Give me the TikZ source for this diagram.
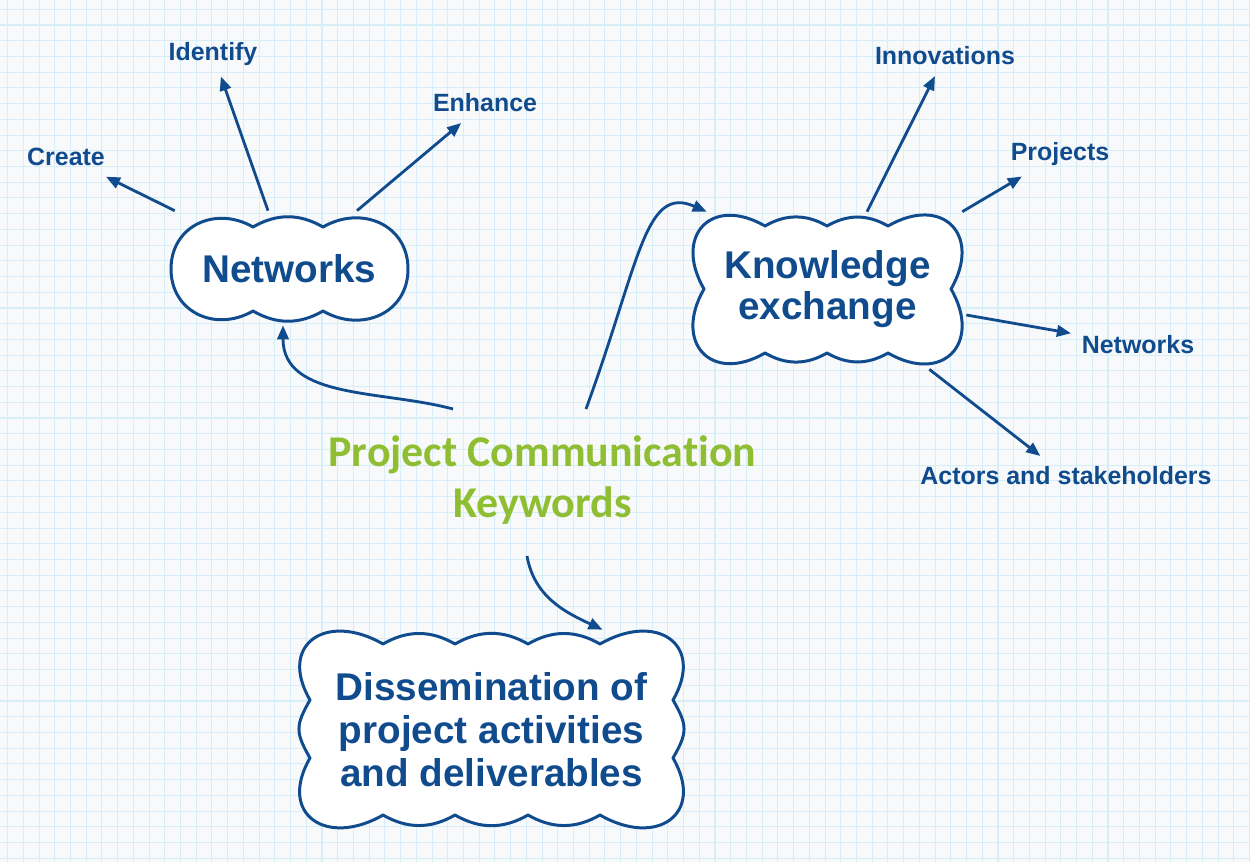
\documentclass[tikz,border=0pt]{standalone}
\usepackage{fontspec}
\setmainfont{Liberation Sans}
\newfontfamily\kwfont[Ligatures=NoCommon]{Carlito}
\usetikzlibrary{arrows.meta,positioning}
\definecolor{inkblue}{HTML}{104B8D}
\definecolor{leafgreen}{HTML}{90BE33}
\definecolor{paper}{HTML}{F8F9FA}
\definecolor{gridblue}{HTML}{D7EDF7}

\begin{document}
\begin{tikzpicture}[x=0.02cm, y=0.02cm,
    gridline/.style={draw=gridblue, line width=0.6pt},
    cloudline/.style={draw=inkblue, fill=white, line width=1.7pt, line join=round},
    topbump/.style={out=30, in=150},
    botbump/.style={out=210, in=-30},
    rightbump/.style={out=-60, in=60, looseness=1.3},
    leftbump/.style={out=120, in=240, looseness=1.3},
    big/.style={text=inkblue, align=center, inner sep=0pt},
    key/.style={text=inkblue, font=\fontsize{14.2}{16}\selectfont\bfseries, inner sep=6pt},
    arr/.style={draw=inkblue, line width=1.6pt, -{Triangle[length=8pt,width=6.5pt]}}]

    % paper with grid
    \fill[paper] (0,0) rectangle (1250,-862);
    \useasboundingbox (0,0) rectangle (1250,-862);
    \foreach \k in {0,...,79}
        \draw[gridline] (7.6+15.72*\k,0) -- (7.6+15.72*\k,-862);
    \foreach \k in {0,...,54}
        \draw[gridline] (0,-9.3-15.72*\k) -- (1250,-9.3-15.72*\k);

    % clouds
    \draw[cloudline] (253,-227) to[topbump] (323,-227)
        to[out=30, in=90, looseness=1.2] (408,-269)
        to[out=-90, in=-30, looseness=1.2] (323,-311)
        to[botbump] (253,-311)
        to[out=210, in=-90, looseness=1.2] (171,-269)
        to[out=90, in=150, looseness=1.2] (253,-227) -- cycle;
    \draw[cloudline] (765,-226) to[topbump] (827,-226) to[topbump] (888,-226)
        to[out=30, in=60, looseness=1.8] (951,-289)
        to[out=-60, in=-30, looseness=1.8] (888,-353)
        to[botbump] (827,-353) to[botbump] (765,-353)
        to[out=210, in=240, looseness=1.8] (704,-289)
        to[out=120, in=150, looseness=1.8] (765,-226) -- cycle;
    \draw[cloudline] (383,-644) to[topbump] (455,-644) to[topbump] (528,-644) to[topbump] (600,-644)
        to[out=30, in=60, looseness=1.8] (673,-700)
        to[rightbump] (673,-758)
        to[out=-60, in=-30, looseness=1.8] (600,-815)
        to[botbump] (528,-815) to[botbump] (455,-815) to[botbump] (383,-815)
        to[out=210, in=240, looseness=1.8] (310,-758)
        to[leftbump] (310,-700)
        to[out=120, in=150, looseness=1.8] (383,-644) -- cycle;

    \node[big, minimum width=4.74cm, minimum height=2.16cm, font=\fontsize{22}{23.5}\selectfont\bfseries] (net) at (289.5,-269) {Networks};
    \node[big, minimum width=5.42cm, minimum height=3.02cm, font=\fontsize{22}{23.3}\selectfont\bfseries] (kex) at (827.5,-289.5) {Knowledge\\exchange};
    \node[big, minimum width=7.74cm, minimum height=3.9cm, font=\fontsize{22}{24.5}\selectfont\bfseries] (dis) at (491.5,-729.5) {Dissemination of\\project activities\\and deliverables};
    \node[text=leafgreen, align=center, inner sep=0pt, font=\kwfont\fontsize{25}{29.5}\selectfont\bfseries] (kw) at (542.5,-480) {Project Communication\\Keywords};

    \node[key] (create) at (66,-157) {Create};
    \node[key] (identify) at (213,-54) {Identify};
    \node[key] (enhance) at (485,-103) {Enhance};
    \node[key] (innov) at (945,-56) {Innovations};
    \node[key] (proj) at (1060,-154) {Projects};
    \node[key] (knet) at (1138,-345) {Networks};
    \node[key] (actors) at (1066,-476) {Actors and stakeholders};

    \draw[arr] ([shift={(4,4)}]net.north west) -- (create);
    \draw[arr] ([shift={(-21.5,4)}]net.north) -- (identify);
    \draw[arr] ([shift={(67.5,4)}]net.north) -- (enhance);
    \draw[arr] ([shift={(39.5,2)}]kex.north) -- (innov);
    \draw[arr] ([shift={(-1,2)}]kex.north east) -- (proj);
    \draw[arr] ([shift={(3,-25.5)}]kex.east) -- (knet);
    \draw[arr] ([shift={(-34,-4)}]kex.south east) -- (actors);

    \draw[arr] ([shift={(-89.5,71)}]kw.center) to[out=165, in=-90] ([shift={(-6.5,-2)}]net.south);
    \draw[arr] ([shift={(43.5,71)}]kw.center) .. controls +(54,148) and +(-62,27) .. ([shift={(15,2)}]kex.north west);
    \draw[arr] ([shift={(-15.5,-76)}]kw.center) to[out=-80, in=155] ([shift={(111,2)}]dis.north);
\end{tikzpicture}
\end{document}
